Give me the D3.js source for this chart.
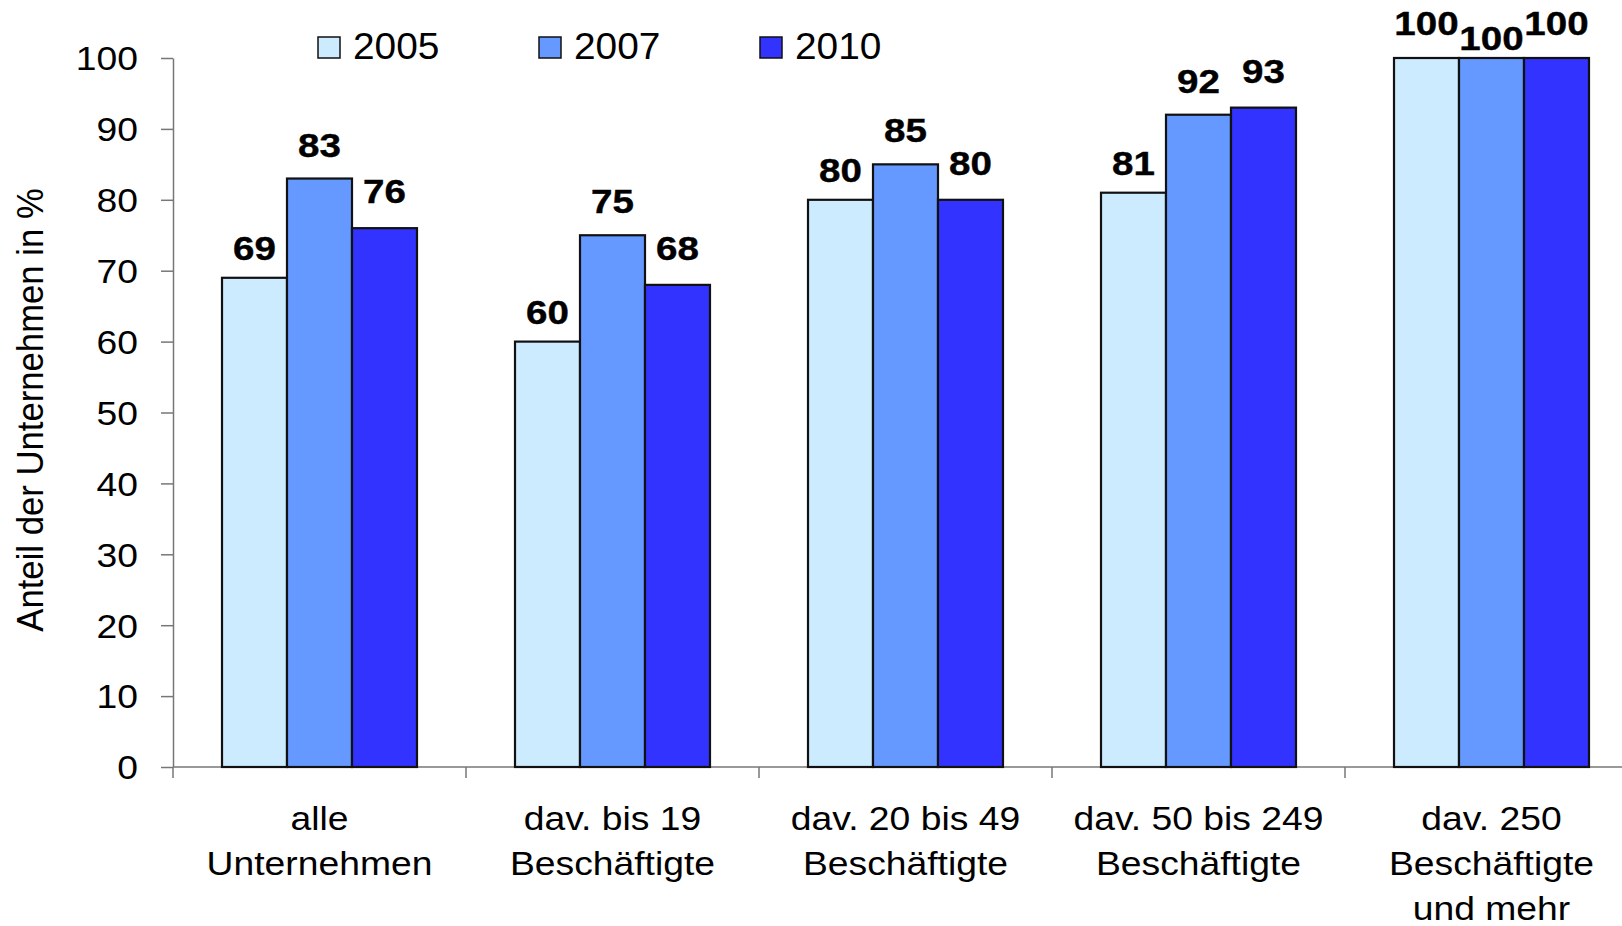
<!DOCTYPE html>
<html>
<head>
<meta charset="utf-8">
<script src="https://cdn.jsdelivr.net/npm/d3@7"></script>
<style>
  html, body { margin: 0; padding: 0; background: #fff; }
  svg { display: block; font-family: "Liberation Sans", Arial, Helvetica, sans-serif; }
</style>
</head>
<body>
<svg id="chart" width="1622" height="926"></svg>
<script>
// ---- data ----
const categories = ["alle\nUnternehmen", "dav. bis 19\nBeschäftigte", "dav. 20 bis 49\nBeschäftigte", "dav. 50 bis 249\nBeschäftigte", "dav. 250\nBeschäftigte\nund mehr"];
const seriesNames = ["2005", "2007", "2010"];
const values2005 = [69, 60, 80, 81, 100];
const values2007 = [83, 75, 85, 92, 100];
const values2010 = [76, 68, 80, 93, 100];
const yTicks = [0, 10, 20, 30, 40, 50, 60, 70, 80, 90, 100];
const yTitle = "Anteil der Unternehmen in %";

const seriesValues = [values2005, values2007, values2010];
const colors = ["#CCEBFF", "#6699FF", "#3333FF"];

// ---- layout ----
const svg = d3.select("#chart");
const W = 1622;
const plotLeft = 173, plotTop = 58, plotBottom = 767, step = 293;
const sx = 1.13; // horizontal text stretch

const x0 = d3.scaleBand().domain(categories)
  .range([plotLeft, plotLeft + step * categories.length]).paddingInner(0).paddingOuter(0);
const x1 = d3.scaleBand().domain(seriesNames)
  .range([0, x0.bandwidth()]).paddingInner(0).paddingOuter(0.754);
const y = d3.scaleLinear().domain([0, 100]).range([plotBottom, plotTop]);

// ---- y axis ----
const yAxis = svg.append("g").attr("transform", `translate(${plotLeft},0)`)
  .call(d3.axisLeft(y).tickValues(yTicks).tickSize(12).tickSizeOuter(0));
yAxis.select(".domain").attr("stroke", "#777").attr("stroke-width", 1.5);
yAxis.selectAll(".tick line").attr("stroke", "#777").attr("stroke-width", 1.5);
yAxis.selectAll(".tick text")
  .attr("x", null).attr("dy", "0.36em")
  .attr("transform", `translate(-35,0) scale(${sx},1)`)
  .attr("font-size", 33).attr("fill", "#000")
  .attr("font-family", "Liberation Sans, Arial, sans-serif");

// ---- x axis ----
svg.append("line").attr("x1", plotLeft).attr("x2", W).attr("y1", plotBottom).attr("y2", plotBottom)
  .attr("stroke", "#777").attr("stroke-width", 1.5);
svg.selectAll(".xtick").data(categories).enter().append("line")
  .attr("x1", d => x0(d)).attr("x2", d => x0(d))
  .attr("y1", plotBottom).attr("y2", plotBottom + 11)
  .attr("stroke", "#777").attr("stroke-width", 1.5);

// category labels
const catG = svg.append("g");
categories.forEach(c => {
  const cx = x0(c) + x0.bandwidth() / 2;
  c.split("\n").forEach((line, i) => {
    catG.append("text")
      .attr("transform", `translate(${cx},${830 + i * 45}) scale(${sx},1)`)
      .attr("text-anchor", "middle").attr("font-size", 33).attr("fill", "#000")
      .text(line);
  });
});

// ---- bars ----
const groups = svg.append("g").selectAll("g").data(categories).enter().append("g")
  .attr("transform", d => `translate(${x0(d)},0)`);
groups.selectAll("rect")
  .data((d, ci) => seriesNames.map((s, si) => ({ s, si, v: seriesValues[si][ci] })))
  .enter().append("rect")
  .attr("x", d => x1(d.s)).attr("width", x1.bandwidth())
  .attr("y", d => y(d.v)).attr("height", d => y(0) - y(d.v))
  .attr("fill", d => colors[d.si]).attr("stroke", "#111").attr("stroke-width", 2.2);

// ---- value labels ----
const labelGap = [18, 22, 25];
const lsx = 1.15;
const labelW = (v) => String(v).length * 0.556 * 33.5 * lsx;
categories.forEach((c, ci) => {
  const vals = seriesNames.map((s, si) => seriesValues[si][ci]);
  seriesNames.forEach((s, si) => {
    const v = vals[si];
    const cx = x0(c) + x1(s) + x1.bandwidth() / 2;
    let by = y(v) - labelGap[si];
    // Avoid collision of middle label with both neighbours (as in the original chart)
    if (si === 1) {
      const crowded = [0, 2].every(ni => {
        const nb = y(vals[ni]) - labelGap[ni];
        return Math.abs(nb - by) < 12 && (labelW(v) / 2 + labelW(vals[ni]) / 2 + 6) > x1.step();
      });
      if (crowded) by = y(v) - 8;
    } else if (vals.every(w => w === v)) {
      by = y(v) - 23;
    }
    svg.append("text")
      .attr("transform", `translate(${cx},${by}) scale(${lsx},1)`)
      .attr("text-anchor", "middle").attr("font-size", 33.5).attr("font-weight", "bold")
      .attr("fill", "#000").attr("stroke", "#000").attr("stroke-width", 0.4)
      .text(v);
  });
});

// ---- y title ----
svg.append("text")
  .attr("transform", "translate(43,410) rotate(-90) scale(1,1.05)")
  .attr("text-anchor", "middle").attr("font-size", 34.7).attr("fill", "#000")
  .text(yTitle);

// ---- legend ----
const legendX = [318, 539, 760];
const leg = svg.append("g");
seriesNames.forEach((s, i) => {
  leg.append("rect").attr("x", legendX[i]).attr("y", 37).attr("width", 22).attr("height", 21)
    .attr("fill", colors[i]).attr("stroke", "#111").attr("stroke-width", 1.5);
  leg.append("text")
    .attr("transform", `translate(${legendX[i] + 35},59) scale(1.05,1)`)
    .attr("font-size", 37).attr("fill", "#000").text(s);
});
</script>
</body>
</html>
